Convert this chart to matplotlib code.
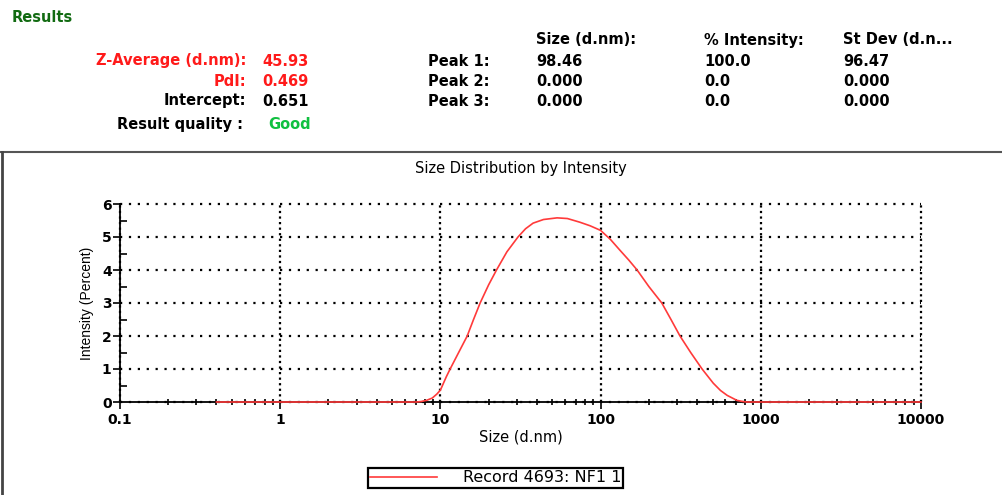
import matplotlib
matplotlib.use("Agg")
import matplotlib.pyplot as plt
from matplotlib.lines import Line2D
from matplotlib.ticker import LogLocator, FixedLocator, NullFormatter

# size distribution
size_nm = [0.4, 1, 5, 7.1, 7.6, 8.2, 8.9, 9.5, 10, 10.9, 11.5, 13, 14.7, 16.1, 17.7,
           20, 22.4, 26, 30.5, 34, 37.9, 44, 53.5, 62, 74, 86, 100, 115, 132, 150,
           169, 200, 241, 275, 313, 365, 430, 505, 560, 617, 709, 780, 820, 1000, 10000]
intensity = [0, 0, 0, 0, 0.015, 0.05, 0.12, 0.24, 0.36, 0.77, 1.0, 1.5, 2.0, 2.5, 3.0,
             3.55, 4.0, 4.55, 5.0, 5.25, 5.42, 5.53, 5.58, 5.56, 5.45, 5.34, 5.2, 4.93, 4.6, 4.3,
             4.0, 3.5, 3.0, 2.5, 2.0, 1.5, 1.0, 0.57, 0.35, 0.2, 0.05, 0.01, 0, 0, 0]

x_ticks = [0.1, 1, 10, 100, 1000, 10000]
x_labels = ["0.1", "1", "10", "100", "1000", "10000"]
y_ticks = [0, 1, 2, 3, 4, 5, 6]

# results header
left_labels = ["Z-Average (d.nm):", "PdI:", "Intercept:"]
left_values = ["45.93", "0.469", "0.651"]
left_colors = ["#ff1a1a", "#ff1a1a", "black"]
quality = "Good"
peak_names = ["Peak 1:", "Peak 2:", "Peak 3:"]
col_heads = ["Size (d.nm):", "% Intensity:", "St Dev (d.n..."]
peak_size = ["98.46", "0.000", "0.000"]
peak_int = ["100.0", "0.0", "0.0"]
peak_sd = ["96.47", "0.000", "0.000"]
record = "Record 4693: NF1 1"

W, H = 1002, 495
fig = plt.figure(figsize=(W / 100, H / 100), dpi=100)


def fy(y):
    return 1 - y / H


def ftext(x, y, s, **kw):
    kw.setdefault("fontweight", "bold")
    kw.setdefault("fontsize", 10.5)
    kw.setdefault("va", "center")
    fig.text(x / W, fy(y), s, family="DejaVu Sans", **kw)


ftext(12, 18, "Results", color="#126b12")
row_y = [61, 81, 101]
for y, lab, val, c in zip(row_y, left_labels, left_values, left_colors):
    ftext(246, y, lab, ha="right", color=c)
    ftext(262, y, val, color=c)
ftext(243, 124, "Result quality :", ha="right", color="black")
ftext(268, 124, quality, color="#10c040")

for x, head in zip([536, 704, 843], col_heads):
    ftext(x, 40, head)
for i, y in enumerate(row_y):
    ftext(428, y, peak_names[i])
    ftext(536, y, peak_size[i])
    ftext(704, y, peak_int[i])
    ftext(843, y, peak_sd[i])

# frame lines of the report
fig.add_artist(Line2D([0, 1], [fy(152), fy(152)], color="#555555", lw=1.5))
fig.add_artist(Line2D([1.5 / W, 1.5 / W], [fy(152), 0], color="#444444", lw=2))

ax = fig.add_axes([120 / W, fy(402), (921 - 120) / W, (402 - 204) / H])
ax.plot(size_nm, intensity, color="#ff3a3a", lw=1.2, zorder=3, clip_on=False)
ax.set_xscale("log")
ax.set_xlim(0.1, 10000)
ax.set_ylim(0, 6)

ax.set_xticks(x_ticks, x_labels)
ax.xaxis.set_minor_locator(LogLocator(base=10, subs=range(2, 10)))
ax.xaxis.set_minor_formatter(NullFormatter())
ax.set_yticks(y_ticks)
ax.yaxis.set_minor_locator(FixedLocator([0.5, 1.5, 2.5, 3.5, 4.5, 5.5]))

for lab in ax.get_xticklabels() + ax.get_yticklabels():
    lab.set_fontweight("bold")
    lab.set_family("DejaVu Sans")
ax.tick_params(axis="both", which="major", labelsize=10, length=5, width=1.2, direction="out")
ax.tick_params(axis="x", which="minor", length=4, width=1.2, direction="inout")
ax.tick_params(axis="y", which="minor", length=5, width=1.2, direction="in")
ax.tick_params(axis="x", pad=3)
ax.tick_params(axis="y", pad=1)

ax.spines["top"].set_visible(False)
ax.spines["right"].set_visible(False)
ax.spines["left"].set_linewidth(1.3)
ax.spines["bottom"].set_linewidth(1.3)

ax.grid(True, which="major", axis="y", color="black", linestyle=(0, (1, 3)), lw=1.6)
ax.grid(True, which="major", axis="x", color="black", linestyle=(0, (1, 1.5)), lw=1.6)
for gl in ax.get_xgridlines() + ax.get_ygridlines():
    gl.set_clip_on(False)

ax.set_title("Size Distribution by Intensity", fontsize=10.5, pad=22, family="DejaVu Sans")
ax.set_xlabel("Size (d.nm)", fontsize=10.5, labelpad=2, family="DejaVu Sans")
ax.set_ylabel("Intensity (Percent)", fontsize=10, labelpad=6, family="Liberation Sans")

handle = Line2D([], [], color="#ff3a3a", lw=1.2)
leg = fig.legend([handle], [record], loc="center", bbox_to_anchor=(495.5 / W, fy(478)),
                 handlelength=4.2, handletextpad=1.6, borderpad=0.15,
                 borderaxespad=0, fancybox=False, edgecolor="black", framealpha=1,
                 prop={"family": "DejaVu Sans", "size": 11.5})
leg.get_frame().set_linewidth(1.6)

fig.savefig("out.png", dpi=100)
